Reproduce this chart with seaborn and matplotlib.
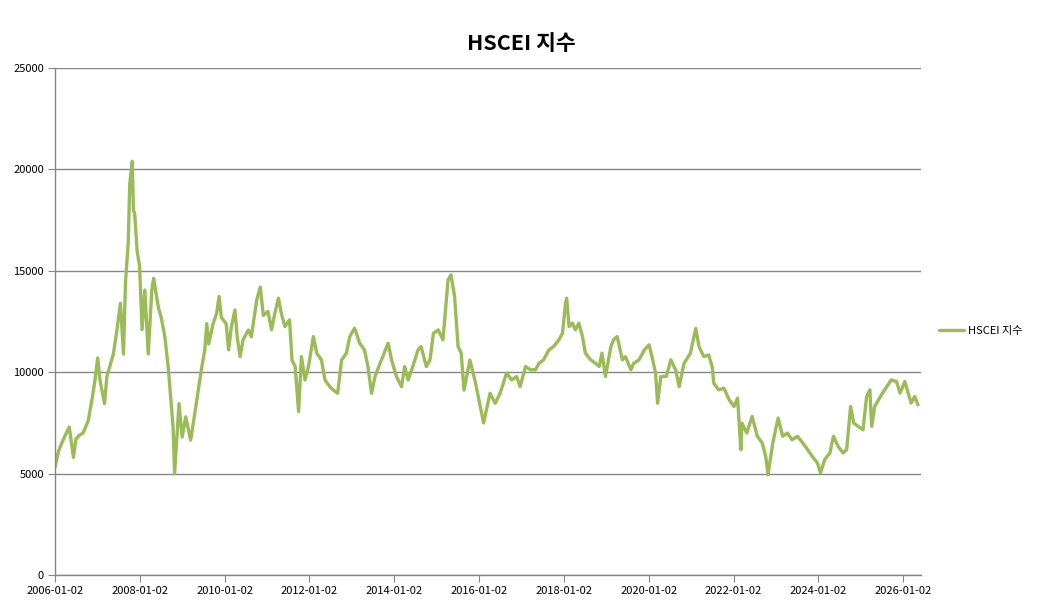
import pandas as pd
import numpy as np
import seaborn as sns
import matplotlib.pyplot as plt
import matplotlib.dates as mdates

# Dữ liệu (ngày, giá trị chỉ số)
dates = [
    "2006-01-02", "2006-02-01", "2006-03-01", "2006-04-01", "2006-05-05", "2006-06-10",
    "2006-07-01", "2006-08-01", "2006-09-01", "2006-10-15", "2006-11-15", "2006-12-10",
    "2007-01-05", "2007-01-25", "2007-03-05", "2007-03-25", "2007-04-20", "2007-05-20",
    "2007-06-20", "2007-07-20", "2007-08-15", "2007-09-01", "2007-09-25", "2007-10-08",
    "2007-10-30", "2007-11-08", "2007-11-20", "2007-12-10", "2008-01-01", "2008-01-22",
    "2008-02-15", "2008-03-15", "2008-04-15", "2008-05-01", "2008-06-10", "2008-07-05",
    "2008-08-05", "2008-09-03", "2008-10-03", "2008-10-15", "2008-10-28", "2008-11-15",
    "2008-12-05", "2009-01-01", "2009-02-01", "2009-03-15", "2009-04-20", "2009-05-20",
    "2009-06-20", "2009-07-15", "2009-08-01", "2009-08-18", "2009-09-25", "2009-10-25",
    "2009-11-15", "2009-12-05", "2010-01-15", "2010-02-05", "2010-03-01", "2010-04-01",
    "2010-04-20", "2010-05-15", "2010-06-10", "2010-07-25", "2010-08-20", "2010-10-05",
    "2010-11-05", "2010-12-01", "2011-01-10", "2011-02-10", "2011-03-10", "2011-04-10",
    "2011-05-05", "2011-06-05", "2011-07-15", "2011-08-05", "2011-09-01", "2011-10-01",
    "2011-10-25", "2011-11-25", "2011-12-25", "2012-02-05", "2012-03-05", "2012-04-15",
    "2012-05-15", "2012-06-25", "2012-07-25", "2012-09-01", "2012-10-05", "2012-11-15",
    "2012-12-15", "2013-01-25", "2013-03-10", "2013-04-20", "2013-05-20", "2013-06-20",
    "2013-07-20", "2013-09-01", "2013-09-25", "2013-11-10", "2013-12-10", "2014-01-20",
    "2014-03-05", "2014-04-01", "2014-05-01", "2014-06-10", "2014-07-25", "2014-08-20",
    "2014-10-05", "2014-11-05", "2014-12-05", "2015-01-15", "2015-02-25", "2015-04-10",
    "2015-05-05", "2015-06-05", "2015-07-05", "2015-08-01", "2015-08-25", "2015-10-15",
    "2015-12-01", "2016-01-01", "2016-02-10", "2016-04-05", "2016-05-20", "2016-07-01",
    "2016-08-25", "2016-10-10", "2016-11-20", "2016-12-20", "2017-02-05", "2017-03-20",
    "2017-05-01", "2017-06-01", "2017-07-10", "2017-08-25", "2017-10-05", "2017-11-20",
    "2017-12-20", "2018-01-15", "2018-01-25", "2018-02-15", "2018-03-15", "2018-04-10",
    "2018-05-10", "2018-06-10", "2018-07-05", "2018-08-20", "2018-10-01", "2018-11-01",
    "2018-11-25", "2018-12-25", "2019-02-10", "2019-03-05", "2019-04-05", "2019-05-20",
    "2019-06-15", "2019-08-01", "2019-08-25", "2019-10-10", "2019-11-25", "2020-01-05",
    "2020-02-05", "2020-03-01", "2020-03-18", "2020-04-15", "2020-06-01", "2020-07-10",
    "2020-08-20", "2020-09-20", "2020-11-01", "2020-12-25", "2021-01-25", "2021-02-10",
    "2021-03-10", "2021-04-20", "2021-06-01", "2021-07-01", "2021-07-15", "2021-08-25",
    "2021-10-10", "2021-11-25", "2022-01-05", "2022-02-05", "2022-03-05", "2022-03-15",
    "2022-04-25", "2022-06-10", "2022-07-25", "2022-09-05", "2022-10-05", "2022-10-25",
    "2022-12-05", "2023-01-20", "2023-02-28", "2023-04-10", "2023-05-20", "2023-07-05",
    "2023-08-20", "2023-10-01", "2023-11-10", "2023-12-25", "2024-01-20", "2024-02-25",
    "2024-04-10", "2024-05-10", "2024-06-20", "2024-08-01", "2024-09-01", "2024-10-05",
    "2024-11-01", "2024-12-10", "2025-01-20", "2025-02-20", "2025-03-20", "2025-04-05",
    "2025-05-01", "2025-06-10", "2025-07-25", "2025-09-20", "2025-11-05", "2025-12-05",
    "2026-01-15", "2026-03-10", "2026-04-10", "2026-05-08",
]
values = [
    5300, 6100, 6500, 6900, 7300, 5800,
    6700, 6900, 7000, 7600, 8600, 9500,
    10700, 9600, 8450, 9800, 10300, 10900,
    12100, 13400, 10900, 14400, 16400, 19300,
    20400, 18000, 17800, 16000, 15200, 12100,
    14050, 10900, 14050, 14630, 13200, 12700,
    11750, 10270, 8130, 7300, 5000, 6650,
    8450, 6800, 7800, 6650, 7960, 9120,
    10270, 11100, 12400, 11400, 12400, 12900,
    13730, 12700, 12400, 11100, 12250, 13070,
    11750, 10770, 11600, 12080, 11750, 13560,
    14200, 12800, 13000, 12090, 12900, 13650,
    12900, 12250, 12580, 10600, 10280, 8060,
    10770, 9620, 10280, 11760, 10940, 10600,
    9620, 9290, 9130, 8960, 10600, 10940,
    11760, 12170, 11430, 11100, 10280, 8960,
    9790, 10440, 10770, 11430, 10600, 9790,
    9290, 10280, 9620, 10280, 11100, 11270,
    10280, 10600, 11920, 12090, 11600, 14560,
    14800, 13730, 11270, 10940, 9120, 10600,
    9500, 8630, 7500, 8960, 8470, 8960,
    9950, 9620, 9790, 9290, 10280, 10120,
    10120, 10440, 10610, 11100, 11270, 11600,
    11920, 13400, 13650, 12250, 12420, 12090,
    12420, 11760, 10940, 10610, 10440, 10280,
    10940, 9790, 11270, 11600, 11760, 10610,
    10770, 10120, 10440, 10610, 11100, 11350,
    10610, 9950, 8470, 9790, 9790, 10610,
    10120, 9290, 10440, 10930, 11750, 12160,
    11260, 10770, 10850, 10280, 9460, 9130,
    9210, 8640, 8310, 8720, 6180, 7490,
    7000, 7820, 6840, 6510, 5850, 4950,
    6510, 7740, 6840, 7000, 6670, 6840,
    6510, 6180, 5850, 5520, 5030, 5690,
    6020, 6840, 6340, 6020, 6180, 8310,
    7490, 7330, 7160, 8800, 9130, 7330,
    8310, 8720, 9130, 9620, 9540, 8970,
    9540, 8480, 8800, 8390,
]
tick_dates = ["2006-01-02", "2008-01-02", "2010-01-02", "2012-01-02", "2014-01-02", "2016-01-02",
              "2018-01-02", "2020-01-02", "2022-01-02", "2024-01-02", "2026-01-02"]
y_ticks = [0, 5000, 10000, 15000, 20000, 25000]
series_name = "HSCEI 지수"

df = pd.DataFrame({"date": pd.to_datetime(dates), "value": values})

sns.set_style("white")
plt.rcParams['font.family'] = ['Noto Sans CJK KR', 'DejaVu Sans']
plt.rcParams['text.color'] = 'black'
plt.rcParams['xtick.labelcolor'] = 'black'
plt.rcParams['ytick.labelcolor'] = 'black'

fig = plt.figure(figsize=(10.43, 6.09), dpi=100)
ax = fig.add_axes([0.0527, 0.0558, 0.883 - 0.0527, 0.8883 - 0.0558])

sns.lineplot(data=df, x="date", y="value", ax=ax, color="#9BBB59", linewidth=2.4, label=series_name)

ax.set_xlim(pd.Timestamp("2006-01-02"), pd.Timestamp("2026-06-03"))
ax.set_ylim(0, 25000)
ax.set_yticks(y_ticks)
ax.set_yticklabels([str(v) for v in y_ticks])
ax.set_xticks(pd.to_datetime(tick_dates))
ax.xaxis.set_major_formatter(mdates.DateFormatter("%Y-%m-%d"))
ax.set_xlabel("")
ax.set_ylabel("")

ax.grid(axis="y", color="#868686", linewidth=1)
ax.set_axisbelow(True)
for s in ["top", "right"]:
    ax.spines[s].set_visible(False)
for s in ["left", "bottom"]:
    ax.spines[s].set_color("#868686")
    ax.spines[s].set_linewidth(1)
ax.tick_params(axis="both", which="major", labelsize=8, length=5, color="#868686",
               direction="out", left=True, bottom=True, pad=3)

ax.legend(loc="center left", bbox_to_anchor=(0.9, 0.4565), bbox_transform=fig.transFigure,
          frameon=False, fontsize=8, handlelength=2.3, handletextpad=0.3,
          borderpad=0, borderaxespad=0)

fig.suptitle(series_name, x=0.5, y=0.945, fontsize=15.5, fontweight="bold", color="black")

plt.savefig("out.png", dpi=100)
